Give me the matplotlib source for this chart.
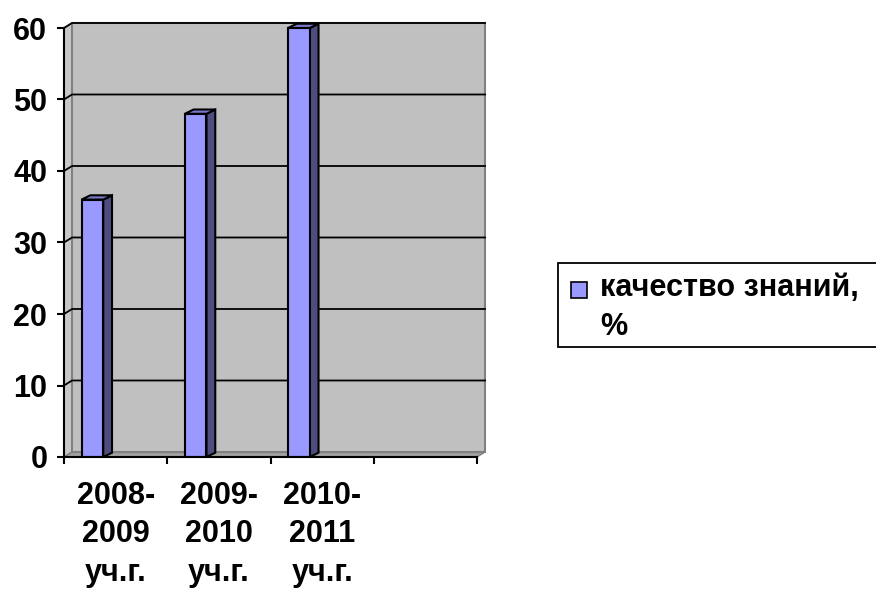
import matplotlib
matplotlib.use('Agg')
import matplotlib.pyplot as plt
from matplotlib.patches import Polygon, Rectangle

categories = ['2008-\n2009\nуч.г.', '2009-\n2010\nуч.г.', '2010-\n2011\nуч.г.', '']
values = [36, 48, 60]
series_name = 'качество знаний,\n%'

plt.rcParams['font.family'] = ['Liberation Sans', 'DejaVu Sans']
plt.rcParams['font.weight'] = 'bold'

W, H = 876, 594
fig = plt.figure(figsize=(W / 100, H / 100), dpi=100)
ax = fig.add_axes([64 / W, 137 / H, 428.5 / W, 443.3 / H])
ax.set_xlim(0, 4.15)
ax.set_ylim(0, 62)

# 3D depth offsets (data units)
dx, dy = 0.078, 0.7
ymax = 60
ncat = len(categories)

# walls and floor
ax.add_patch(Polygon([(0, 0), (dx, dy), (dx, ymax + dy), (0, ymax)],
                     facecolor='#c8c8c8', edgecolor='#808080', lw=1, zorder=1))
ax.add_patch(Polygon([(0, 0), (ncat, 0), (ncat + dx, dy), (dx, dy)],
                     facecolor='#a0a0a0', edgecolor='#808080', lw=1, zorder=1))
ax.add_patch(Rectangle((dx, dy), ncat, ymax, facecolor='#c0c0c0',
                       edgecolor='#808080', lw=1.5, zorder=1))
for y in range(10, ymax + 1, 10):
    ax.plot([0, dx, ncat + dx], [y, y + dy, y + dy], color='black', lw=1.3, zorder=2)

# bars
w, bdx, bdy = 0.21, 0.085, 0.6
for i, v in enumerate(values):
    x0 = i + 0.17
    ax.add_patch(Rectangle((x0, 0), w, v, facecolor='#9999ff',
                           edgecolor='black', lw=1.5, zorder=4))
    ax.add_patch(Polygon([(x0 + w, 0), (x0 + w + bdx, bdy), (x0 + w + bdx, v + bdy), (x0 + w, v)],
                         facecolor='#4d4d80', edgecolor='black', lw=1.5, zorder=3))
    ax.add_patch(Polygon([(x0, v), (x0 + bdx, v + bdy), (x0 + w + bdx, v + bdy), (x0 + w, v)],
                         facecolor='#7a7acc', edgecolor='black', lw=1.5, zorder=3))

ax.set_facecolor('none')
for s in ['top', 'right']:
    ax.spines[s].set_visible(False)
ax.spines['left'].set_bounds(0, ymax)
ax.spines['bottom'].set_bounds(0, ncat)
for s in ['left', 'bottom']:
    ax.spines[s].set_linewidth(1.5)
    ax.spines[s].set_zorder(5)

ax.set_yticks(range(0, ymax + 1, 10))
ax.set_xticks(range(0, ncat + 1))
ax.set_xticklabels([])
ax.set_xticks([i + 0.5 for i in range(ncat)], minor=True)
ax.set_xticklabels(categories, minor=True, fontsize=22, fontweight='bold',
                   linespacing=1.38, va='top')
ax.tick_params(axis='x', which='minor', length=0, pad=17)
ax.tick_params(axis='x', which='major', length=5, width=1.5, direction='out')
ax.tick_params(axis='y', length=5, width=1.5, direction='out', labelsize=22, pad=7)
for lab in ax.get_yticklabels():
    lab.set_fontweight('bold')

# legend box (runs off the right edge like the original)
fig.add_artist(Rectangle((558 / W, 1 - 347 / H), 330 / W, 84 / H,
                         transform=fig.transFigure, facecolor='white',
                         edgecolor='black', lw=1.3))
fig.add_artist(Rectangle((571 / W, 1 - 298 / H), 16 / W, 16 / H,
                         transform=fig.transFigure, facecolor='#9999ff',
                         edgecolor='black', lw=1.2))
fig.text(600 / W, 1 - 335 / H, series_name, fontsize=22, fontweight='bold',
         ha='left', va='baseline', linespacing=1.38)

fig.savefig('out.png', dpi=100)
